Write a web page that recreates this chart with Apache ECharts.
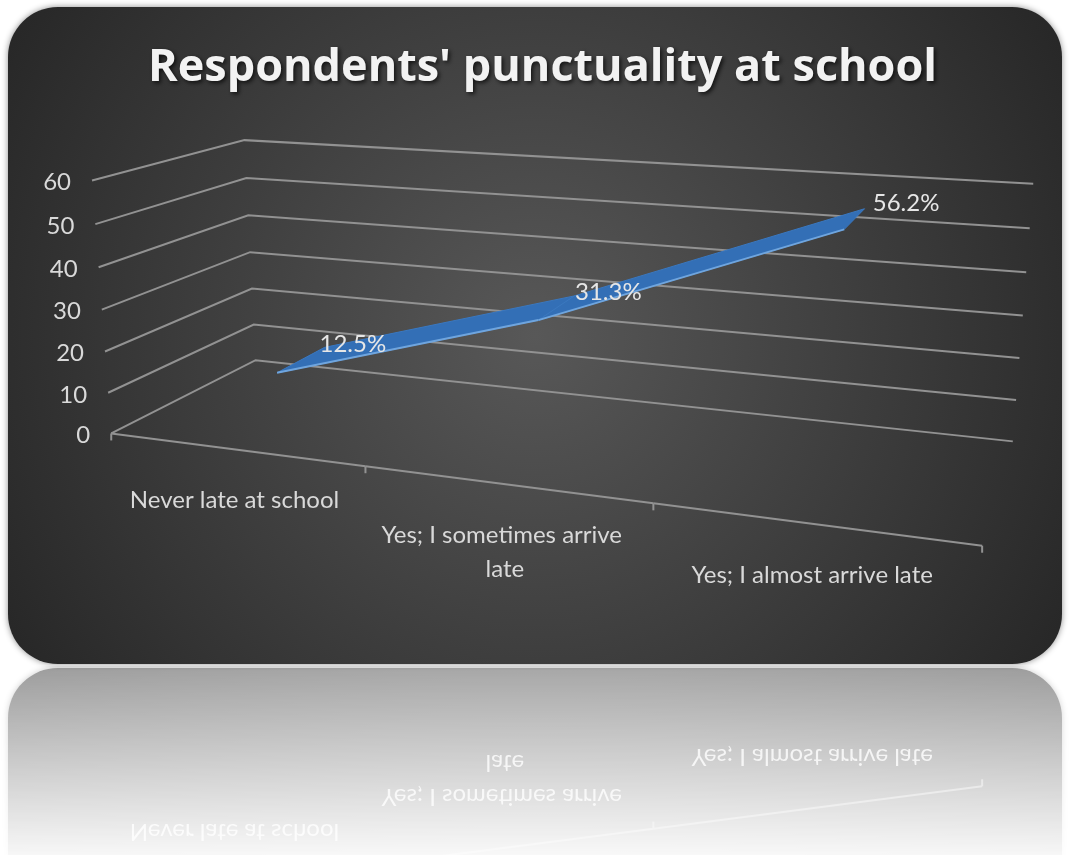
<!DOCTYPE html>
<html>
<head>
<meta charset="utf-8">
<title>Respondents' punctuality at school</title>
<script src="https://cdn.jsdelivr.net/npm/echarts@6/dist/echarts.min.js"></script>
<style>
  html, body { margin: 0; padding: 0; background: #fff; }
  #main { position: absolute; left: 0; top: 0; width: 1069px; height: 855px; }
  #mirror {
    position: absolute; left: 0; top: 666px; width: 1069px; height: 189px; overflow: hidden;
    -webkit-mask-image: linear-gradient(to bottom, rgba(0,0,0,0.46), rgba(0,0,0,0.04));
    mask-image: linear-gradient(to bottom, rgba(0,0,0,0.46), rgba(0,0,0,0.04));
  }
  #mirrorChart {
    position: absolute; left: 0; top: 0; width: 1069px; height: 855px;
    transform-origin: 0 0; transform: translateY(666px) scaleY(-1);
  }
</style>
</head>
<body>
<div id="main"></div>
<div id="mirror"><div id="mirrorChart"></div></div>
<script>
// data
var categories = ["Never late at school", "Yes; I sometimes arrive late", "Yes; I almost arrive late"];
var percentValues = [12.5, 31.3, 56.2];
var yTicks = [0, 10, 20, 30, 40, 50, 60];

// box corners as seen on screen: [u, v, depth(0 back, 1 front), px, py]
var boxFit = [
  [0, 0, 0, 255, 360], [0, 1, 0, 245, 140], [1, 0, 0, 1013, 441], [1, 1, 0, 1033, 184],
  [0, 0, 1, 112, 432], [0, 1, 1, 92, 180], [1, 0, 1, 982, 546],
  [1 / 3, 0, 1, 366, 468], [2 / 3, 0, 1, 653, 503],
  [0, 0.5, 0, 250, 253], [1, 0.5, 0, 1023, 315], [0, 0.5, 1, 101, 310]
];
var ribbonFront = 0.69, ribbonBack = 0.33;
var textFont = "Lato";

// least squares camera matrix (p34 = 1)
function fitCamera(pts) {
  var A = [], b = [];
  pts.forEach(function (p) {
    var X = p[0], Y = p[1], Z = p[2], x = p[3], y = p[4];
    A.push([X, Y, Z, 1, 0, 0, 0, 0, -x * X, -x * Y, -x * Z]); b.push(x);
    A.push([0, 0, 0, 0, X, Y, Z, 1, -y * X, -y * Y, -y * Z]); b.push(y);
  });
  var n = 11, M = [];
  for (var r = 0; r < n; r++) {
    M.push([]);
    for (var c = 0; c <= n; c++) {
      var s = 0;
      for (var k = 0; k < A.length; k++) s += A[k][r] * (c < n ? A[k][c] : b[k]);
      M[r].push(s);
    }
  }
  for (var i = 0; i < n; i++) {
    var piv = i;
    for (var j = i + 1; j < n; j++) if (Math.abs(M[j][i]) > Math.abs(M[piv][i])) piv = j;
    var t = M[i]; M[i] = M[piv]; M[piv] = t;
    for (var j2 = i + 1; j2 < n; j2++) {
      var f = M[j2][i] / M[i][i];
      for (var c2 = i; c2 <= n; c2++) M[j2][c2] -= f * M[i][c2];
    }
  }
  var p = new Array(n);
  for (var i2 = n - 1; i2 >= 0; i2--) {
    var s2 = M[i2][n];
    for (var c3 = i2 + 1; c3 < n; c3++) s2 -= M[i2][c3] * p[c3];
    p[i2] = s2 / M[i2][i2];
  }
  return p;
}
var cam = fitCamera(boxFit);

function project(u, v, d) {
  var w = cam[8] * u + cam[9] * v + cam[10] * d + 1;
  return [
    (cam[0] * u + cam[1] * v + cam[2] * d + cam[3]) / w,
    (cam[4] * u + cam[5] * v + cam[6] * d + cam[7]) / w
  ];
}

// flat grid point -> (u, v) in 0..1
function toUV(params, pt) {
  var cs = params.coordSys;
  return [(pt[0] - cs.x) / cs.width, (cs.y + cs.height - pt[1]) / cs.height];
}

var gridColor = "#929292";
var labelColor = "#d9d9d9";

function buildOption() {
  return {
    animation: false,
    title: {
      text: "Respondents' punctuality at school",
      left: 143,
      top: 41,
      textStyle: {
        color: "#f2f2f2",
        fontFamily: "Open Sans",
        fontWeight: "bold",
        fontSize: 45,
        textShadowColor: "rgba(0,0,0,0.7)",
        textShadowBlur: 4,
        textShadowOffsetX: 2,
        textShadowOffsetY: 2
      }
    },
    graphic: [{
      type: "rect",
      z: -10,
      shape: { x: 8, y: 7, width: 1054, height: 657, r: 50 },
      style: {
        fill: new echarts.graphic.RadialGradient(0.5, 0.5, 0.95, [
          { offset: 0, color: "#585858" },
          { offset: 1, color: "#262626" }
        ]),
        shadowBlur: 6,
        shadowColor: "rgba(0,0,0,0.45)"
      }
    }],
    grid: { left: 0, top: 0, width: 300, height: 300, show: false },
    xAxis: { type: "category", data: categories, show: false },
    yAxis: { type: "value", min: 0, max: 60, interval: 10, show: false },
    series: [
      {
        // walls: gridlines and value labels
        type: "custom",
        name: "walls",
        silent: true,
        data: yTicks.map(function (v) { return [0, v]; }),
        renderItem: function (params, api) {
          var v = toUV(params, api.coord([0, api.value(1)]))[1];
          var a = project(0, v, 1), b = project(0, v, 0), c = project(1, v, 0);
          return {
            type: "group",
            children: [
              { type: "polyline", shape: { points: [a, b, c] }, style: { stroke: gridColor, lineWidth: 2, fill: null } },
              {
                type: "text",
                style: {
                  text: String(api.value(1)), x: a[0] - 21, y: a[1] + 2,
                  align: "right", verticalAlign: "middle",
                  fill: labelColor, font: "24px " + textFont
                }
              }
            ]
          };
        }
      },
      {
        // front category axis
        type: "custom",
        name: "axis",
        silent: true,
        data: categories.map(function (c, i) { return [i, 0]; }),
        renderItem: function (params, api) {
          var i = params.dataIndex;
          var u = toUV(params, api.coord([i, 0]))[0];
          var half = api.size([1, 0])[0] / params.coordSys.width / 2;
          var p0 = project(u - half, 0, 1), p1 = project(u + half, 0, 1), pm = project(u, 0, 1);
          var kids = [
            { type: "line", shape: { x1: p0[0], y1: p0[1], x2: p1[0], y2: p1[1] }, style: { stroke: gridColor, lineWidth: 2 } },
            { type: "line", shape: { x1: p0[0], y1: p0[1], x2: p0[0], y2: p0[1] + 7 }, style: { stroke: gridColor, lineWidth: 2 } },
            {
              type: "text",
              style: {
                text: categories[i], x: pm[0], y: pm[1] + 34,
                width: 265, overflow: "break",
                align: "center", verticalAlign: "top", lineHeight: 34,
                fill: labelColor, font: "24px " + textFont
              }
            }
          ];
          if (i === categories.length - 1) {
            kids.push({ type: "line", shape: { x1: p1[0], y1: p1[1], x2: p1[0], y2: p1[1] + 7 }, style: { stroke: gridColor, lineWidth: 2 } });
          }
          return { type: "group", children: kids };
        }
      },
      {
        // the 3-D ribbon line
        type: "custom",
        name: "Punctuality",
        data: percentValues.map(function (v, i) { return [i, v]; }),
        renderItem: function (params, api) {
          var i = params.dataIndex;
          var a = toUV(params, api.coord([i, api.value(1)]));
          var kids = [];
          if (i < percentValues.length - 1) {
            var b = toUV(params, api.coord([i + 1, percentValues[i + 1]]));
            var af = project(a[0], a[1], ribbonFront), bf = project(b[0], b[1], ribbonFront);
            var ab = project(a[0], a[1], ribbonBack), bb = project(b[0], b[1], ribbonBack);
            kids.push({ type: "polygon", shape: { points: [af, bf, bb, ab] }, style: { fill: "#336fb6", stroke: "#3a78c0", lineWidth: 1 } });
            kids.push({ type: "line", shape: { x1: af[0], y1: af[1], x2: bf[0], y2: bf[1] }, style: { stroke: "#6fa5de", lineWidth: 2 } });
          }
          var c = project(a[0], a[1], (ribbonFront + ribbonBack) / 2);
          kids.push({
            type: "text", z2: 10,
            style: {
              text: api.value(1).toFixed(1) + "%", x: c[0] + 18, y: c[1] - 15,
              align: "left", verticalAlign: "middle",
              fill: "#e6e6e6", font: "24px " + textFont
            }
          });
          return { type: "group", children: kids };
        }
      }
    ]
  };
}

var chart = echarts.init(document.getElementById("main"));
chart.setOption(buildOption());
var mirrorChart = echarts.init(document.getElementById("mirrorChart"));
mirrorChart.setOption(buildOption());
</script>
</body>
</html>
